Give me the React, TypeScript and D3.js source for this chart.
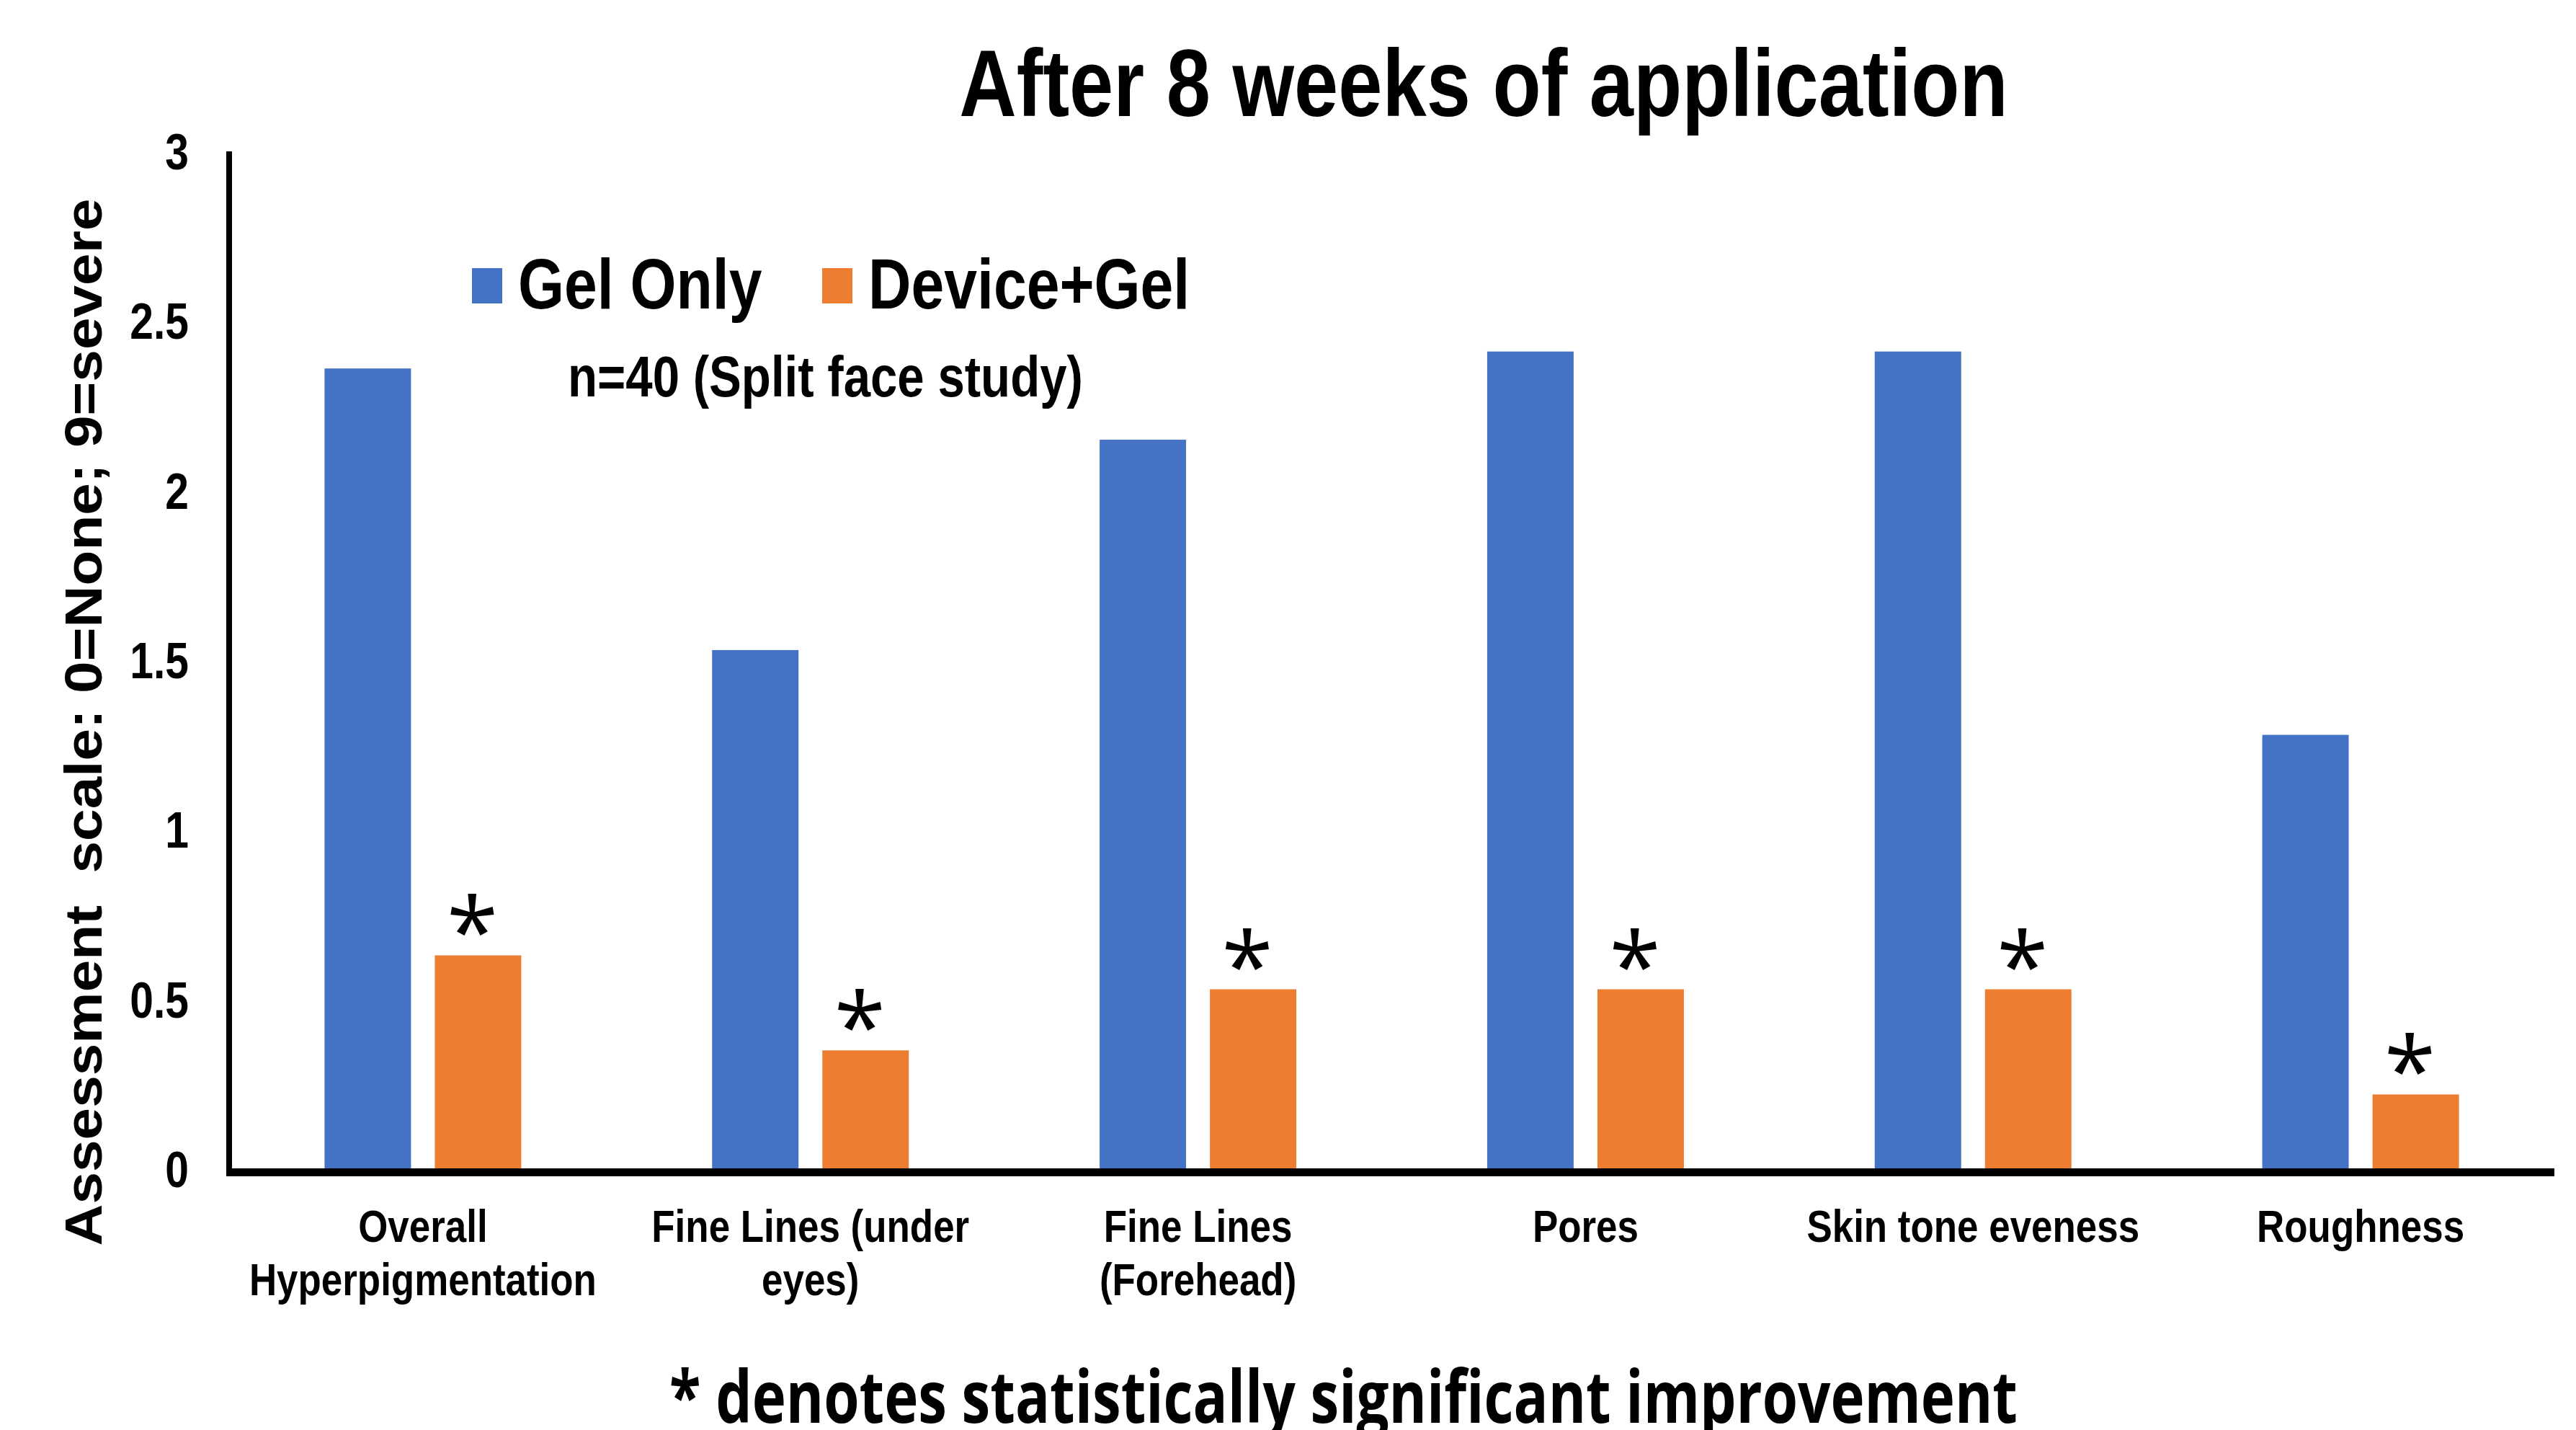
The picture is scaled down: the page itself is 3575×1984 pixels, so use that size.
import React from 'react';
import * as d3 from 'd3';

const categories = [
  ['Overall', 'Hyperpigmentation'],
  ['Fine Lines (under', 'eyes)'],
  ['Fine Lines', '(Forehead)'],
  ['Pores'],
  ['Skin tone eveness'],
  ['Roughness'],
];
const seriesNames = ['Gel Only', 'Device+Gel'];
const gelOnly = [2.36, 1.53, 2.15, 2.41, 2.41, 1.28];
const deviceGel = [0.63, 0.35, 0.53, 0.53, 0.53, 0.22];
const significant = [true, true, true, true, true, true];
const yTicks = [0, 0.5, 1, 1.5, 2, 2.5, 3];

const W = 3575;
const H = 1984;
const colors = ['#4472C4', '#ED7D31'];
const SQ = 0.84; // picture is squeezed horizontally
const ARIAL = '"Liberation Sans", Arial, sans-serif';

function SqText({ x, y, size, anchor = 'middle', children }: any) {
  return (
    <text
      transform={`translate(${x},${y}) scale(${SQ},1)`}
      fontFamily={ARIAL}
      fontWeight="bold"
      fontSize={size}
      textAnchor={anchor}
      fill="#000"
    >
      {children}
    </text>
  );
}

export default function App() {
  const x0 = d3.scaleBand<number>()
    .domain(d3.range(categories.length))
    .range([318, 3545]);
  const bw = x0.bandwidth();
  const x1 = d3.scaleBand<number>()
    .domain([0, 1])
    .range([bw * 0.2462, bw * 0.7538])
    .paddingInner(0.216);
  const y = d3.scaleLinear().domain([0, 3]).range([1622, 210]);

  const values = [gelOnly, deviceGel];

  return (
    <svg width={W} height={H} style={{ position: 'absolute', left: 0, top: 0, background: '#fff' }}>
      <rect width={W} height={H} fill="#fff" />

      {/* title */}
      <SqText x={2059} y={161} size={131}>After 8 weeks of application</SqText>

      {/* bars */}
      {categories.map((c, i) => (
        <g key={i} transform={`translate(${x0(i)},0)`}>
          {values.map((vals, s) => (
            <rect
              key={s}
              x={x1(s)}
              y={y(vals[i])}
              width={x1.bandwidth()}
              height={y(0) - y(vals[i])}
              fill={colors[s]}
            />
          ))}
          {significant[i] && (
            <text
              x={(x1(1) as number) + x1.bandwidth() / 2 - 8}
              y={y(deviceGel[i]) + 14}
              fontFamily='"Open Sans", sans-serif'
              fontWeight="normal"
              fontSize={130}
              textAnchor="middle"
            >*</text>
          )}
        </g>
      ))}

      {/* axes */}
      <rect x={314} y={210} width={8} height={1422} fill="#000" />
      <rect x={314} y={1621} width={3545 - 314} height={11} fill="#000" />

      {yTicks.map(t => (
        <SqText key={t} x={262} y={y(t) + 25} size={70} anchor="end">{String(t)}</SqText>
      ))}

      {categories.map((lines, i) => (
        <g key={i}>
          {lines.map((ln, k) => (
            <SqText key={k} x={(x0(i) as number) + bw / 2} y={1723 + k * 74} size={63}>{ln}</SqText>
          ))}
        </g>
      ))}

      {/* y label */}
      <text
        transform={`translate(141,1002) scale(${SQ},1) rotate(-90)`}
        fontFamily={ARIAL}
        fontWeight="bold"
        fontSize={86}
        textAnchor="middle"
        textLength={1453}
        lengthAdjust="spacingAndGlyphs"
        style={{ whiteSpace: 'pre' }}
      >{'Assessment  scale: 0=None; 9=severe'}</text>

      {/* legend */}
      {seriesNames.map((name, s) => {
        const lx = s === 0 ? 655 : 1141;
        return (
          <g key={name}>
            <rect x={lx} y={372} width={42} height={49} fill={colors[s]} />
            <SqText x={lx + 64} y={428} size={98} anchor="start">{name}</SqText>
          </g>
        );
      })}
      <SqText x={788} y={550} size={80} anchor="start">n=40 (Split face study)</SqText>

      {/* footnote */}
      <text
        x={929}
        y={1974}
        fontFamily='"Open Sans", sans-serif'
        fontWeight="bold"
        fontSize={100}
        textLength={1871}
        lengthAdjust="spacingAndGlyphs"
      >* denotes statistically significant improvement</text>
    </svg>
  );
}
